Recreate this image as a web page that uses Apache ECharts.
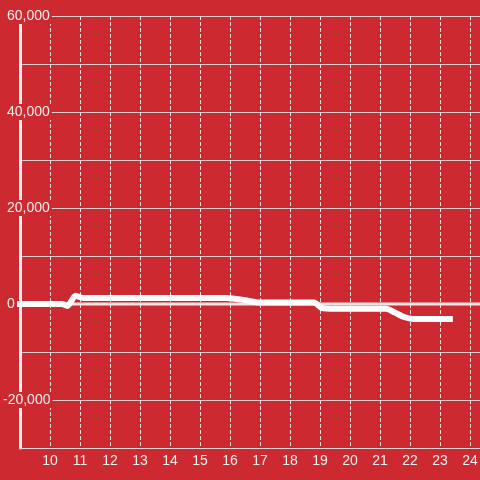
<!DOCTYPE html>
<html>
<head>
<meta charset="utf-8">
<style>html,body{margin:0;padding:0;background:#cc2a30;}#c{width:480px;height:480px;}</style>
<script src="https://cdn.jsdelivr.net/npm/echarts@6/dist/echarts.min.js"></script>
</head>
<body>
<div id="c"></div>
<script>
// x positions (hours) and values of the thick series
const xValues = [9.0, 10.4, 10.58, 10.85, 11.1, 15.9, 16.5, 17.0, 18.8, 19.05, 19.5, 21.2, 21.5, 21.8, 22.1, 23.33];
const yValues = [0, 0, -400, 1700, 1250, 1250, 800, 300, 300, -800, -1000, -1000, -1800, -2700, -3100, -3100];
// thin baseline series
const baseX = [9.0, 24.333];
const baseY = [0, 0];
// axis settings
const xMin = 9, xMax = 24.333, xStep = 1;
const yMin = -30000, yMax = 60000, yStep = 10000, yLabelStep = 20000;

const thick = xValues.map((x, i) => [x, yValues[i]]);
const base = baseX.map((x, i) => [x, baseY[i]]);
const bg = '#cc2a30';

const chart = echarts.init(document.getElementById('c'), null, {renderer: 'canvas'});
chart.setOption({
  backgroundColor: bg,
  animation: false,
  textStyle: {fontFamily: 'Liberation Sans, Arial, sans-serif'},
  grid: {left: 20, right: 0, top: 16, bottom: 32, containLabel: false, outerBoundsMode: 'none'},
  xAxis: {
    type: 'value', min: xMin, max: xMax, interval: xStep,
    axisLine: {onZero: false, lineStyle: {color: '#d8d8d8', width: 1}},
    axisTick: {show: false},
    axisLabel: {
      color: '#f0f0f0', fontSize: 14, margin: 6,
      showMinLabel: false, showMaxLabel: false,
      formatter: v => (Math.abs(v - Math.round(v)) < 1e-6 && v > xMin && v <= 24) ? String(Math.round(v)) : ''
    },
    splitLine: {show: true, lineStyle: {color: '#e0e0e0', width: 1, type: 'dashed'}}
  },
  yAxis: {
    type: 'value', min: yMin, max: yMax, interval: yStep,
    axisLine: {show: true, onZero: false, lineStyle: {color: '#f2f2f2', width: 3}},
    axisTick: {show: false},
    axisLabel: {
      color: '#f0f0f0', fontSize: 14, align: 'left', margin: 17,
      backgroundColor: bg, padding: [1, 2, 1, 0],
      formatter: v => {
        if (v % yLabelStep !== 0) return '';
        const s = v.toLocaleString('en-US');
        return v < 0 ? '{n|' + s + '}' : '{p|' + s + '}';
      },
      rich: {
        n: {color: '#f0f0f0', fontSize: 14, padding: [0, 0, 0, 0]},
        p: {color: '#f0f0f0', fontSize: 14, padding: [0, 0, 0, 4]}
      }
    },
    splitLine: {show: true, lineStyle: {color: '#cfcfcf', width: 1}}
  },
  series: [
    {
      type: 'line', data: base, symbol: 'none', z: 1, silent: true,
      lineStyle: {color: '#efe6e6', width: 3}
    },
    {
      type: 'line', data: thick, symbol: 'none', z: 2, clip: false,
      smooth: 0.25,
      lineStyle: {color: '#ffffff', width: 6, cap: 'square', join: 'round'}
    }
  ]
});
</script>
</body>
</html>
